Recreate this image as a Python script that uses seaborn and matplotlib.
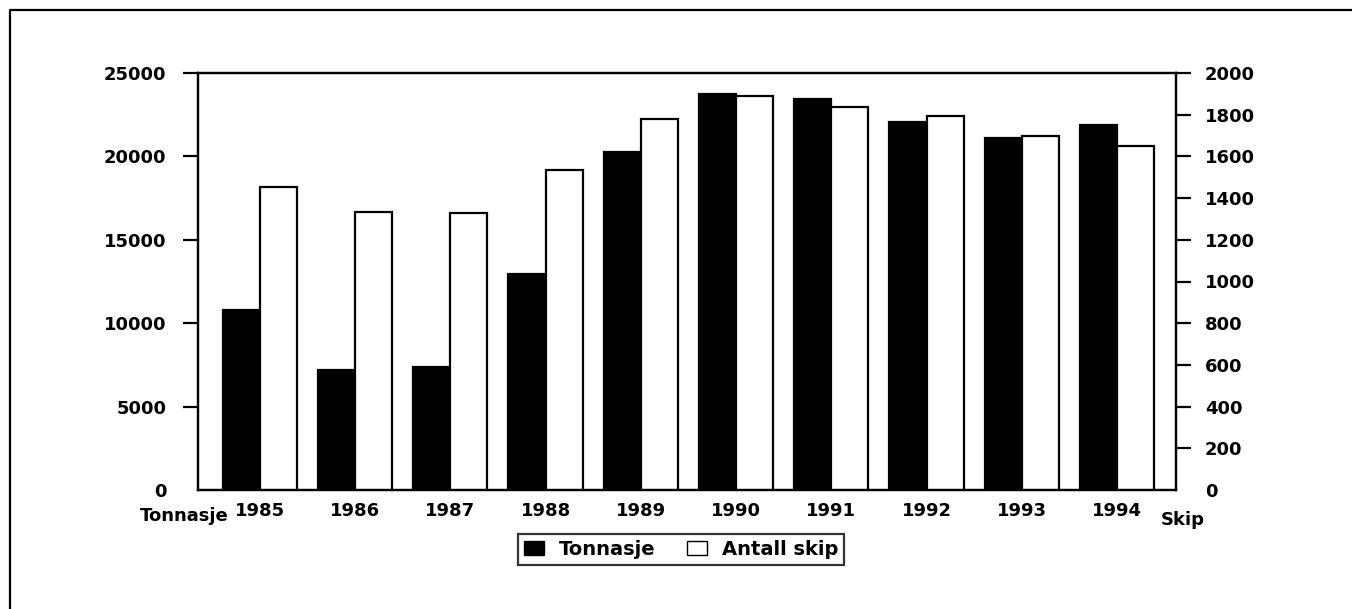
import matplotlib
matplotlib.use("Agg")
import matplotlib.pyplot as plt
import seaborn as sns
import pandas as pd
from matplotlib.patches import Patch
from matplotlib.lines import Line2D

years = ["1985", "1986", "1987", "1988", "1989", "1990", "1991", "1992", "1993", "1994"]
tonnasje = [10800, 7200, 7400, 12950, 20280, 23720, 23420, 22080, 21085, 21880]
antall_skip = [1455, 1335, 1330, 1535, 1780, 1890, 1835, 1795, 1698, 1650]
series_names = ["Tonnasje", "Antall skip"]
left_ticks = [0, 5000, 10000, 15000, 20000, 25000]
right_ticks = [0, 200, 400, 600, 800, 1000, 1200, 1400, 1600, 1800, 2000]

sns.set_theme(style="white")
plt.rcParams["font.family"] = ["DejaVu Sans"]
plt.rcParams["font.weight"] = "bold"
plt.rcParams["text.color"] = "black"
FS = 13
plt.rcParams["font.size"] = FS

W, H = 1352, 609
fig = plt.figure(figsize=(W / 100, H / 100), dpi=100)
fig.patch.set_facecolor("white")
L, R, B, T = 198, 1176, 490, 73
ax = fig.add_axes([L / W, 1 - B / H, (R - L) / W, (B - T) / H])
ax2 = ax.twinx()

df_t = pd.DataFrame({"year": years, "value": tonnasje, "series": series_names[0]})
df_s = pd.DataFrame({"year": years, "value": antall_skip, "series": series_names[1]})
pal = {series_names[0]: "black", series_names[1]: "white"}

sns.barplot(data=df_t, x="year", y="value", hue="series", hue_order=series_names,
            palette=pal, width=0.78, dodge=True, edgecolor="black", linewidth=1.6,
            ax=ax, legend=False, errorbar=None, saturation=1)
sns.barplot(data=df_s, x="year", y="value", hue="series", hue_order=series_names,
            palette=pal, width=0.78, dodge=True, edgecolor="black", linewidth=1.6,
            ax=ax2, legend=False, errorbar=None, saturation=1)

for a in (ax, ax2):
    a.set_xlim(-0.65, 9.62)
    a.set_xlabel("")
    a.set_ylabel("")
    a.grid(False)
    a.set_facecolor("none")
    for s in a.spines.values():
        s.set_color("black")
        s.set_linewidth(1.6)

ax.set_ylim(0, 25000)
ax2.set_ylim(0, 2000)
ax.set_yticks(left_ticks)
ax.set_yticklabels([str(v) for v in left_ticks], fontweight="bold")
ax2.set_yticks(right_ticks)
ax2.set_yticklabels([str(v) for v in right_ticks], fontweight="bold")
ax.set_xticks(range(len(years)))
ax.set_xticklabels(years, fontweight="bold")

ax.tick_params(axis="y", which="major", direction="out", length=10.8, width=1.6,
               color="black", pad=12, labelsize=FS, left=True, labelcolor="black")
ax2.tick_params(axis="y", which="major", direction="out", length=10.8, width=1.6,
                color="black", pad=10, labelsize=FS, right=True, labelcolor="black")
ax.tick_params(axis="x", length=0, pad=9, labelsize=FS, labelcolor="black")
ax.yaxis.get_major_ticks()[0].tick1line.set_visible(False)
ax2.yaxis.get_major_ticks()[0].tick2line.set_visible(False)

fig.text(184 / W, 1 - 516 / H, "Tonnasje", ha="center", va="center", fontsize=FS,
         fontweight="bold", color="black")
fig.text(1183 / W, 1 - 520 / H, "Skip", ha="center", va="center", fontsize=FS,
         fontweight="bold", color="black")

handles = [Patch(facecolor="black", edgecolor="black", label=series_names[0]),
           Patch(facecolor="white", edgecolor="black", label=series_names[1])]
leg = fig.legend(handles=handles, loc="center", bbox_to_anchor=(681 / W, 1 - 549.5 / H),
                 ncol=2, frameon=True, fancybox=False,
                 prop={"size": 14, "weight": "bold", "family": "DejaVu Sans"},
                 labelcolor="black",
                 handlelength=1.05, handleheight=0.75, columnspacing=1.6,
                 handletextpad=0.75, borderpad=0.32, borderaxespad=0)
leg.get_frame().set_edgecolor("black")
leg.get_frame().set_linewidth(1.6)

fig.add_artist(Line2D([10 / W, 10 / W, 1.0], [0.0, 1 - 10 / H, 1 - 10 / H],
                      transform=fig.transFigure, color="black", linewidth=1.6))

fig.savefig("out.png", dpi=100, facecolor="white")
